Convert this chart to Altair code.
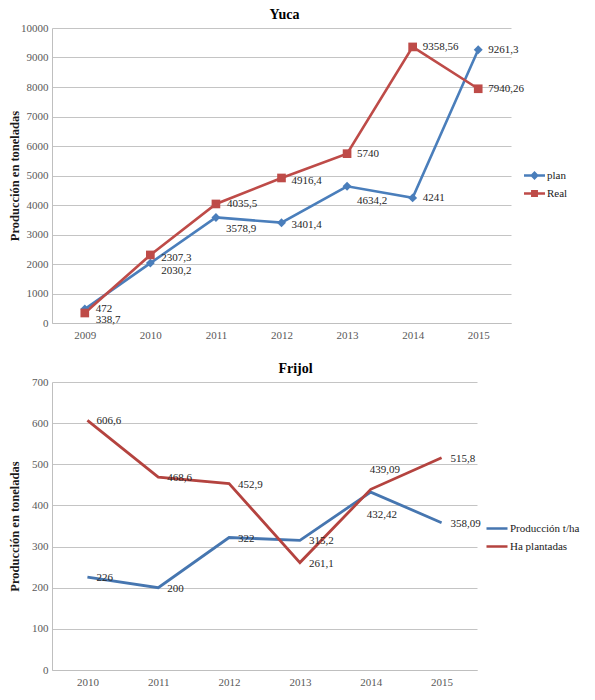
import altair as alt
import pandas as pd

# ---------------- data ----------------
yuca_years = ["2009", "2010", "2011", "2012", "2013", "2014", "2015"]
yuca_plan = [472, 2030.2, 3578.9, 3401.4, 4634.2, 4241, 9261.3]
yuca_real = [338.7, 2307.3, 4035.5, 4916.4, 5740, 9358.56, 7940.26]
yuca_series = ["plan", "Real"]
yuca_ticks = [0, 1000, 2000, 3000, 4000, 5000, 6000, 7000, 8000, 9000, 10000]

frijol_years = ["2010", "2011", "2012", "2013", "2014", "2015"]
frijol_prod = [226, 200, 322, 315.2, 432.42, 358.09]
frijol_ha = [606.6, 468.6, 452.9, 261.1, 439.09, 515.8]
frijol_series = ["Producción t/ha", "Ha plantadas"]
frijol_ticks = [0, 100, 200, 300, 400, 500, 600, 700]

# ---------------- styles ----------------
yuca_colors = ["#4A7EBB", "#BE4B48"]
frijol_colors = ["#4676B0", "#B4433F"]
SERIF = "Liberation Serif"
# legend symbols: short line with marker (diamond / square), in a -1..1 box
yuca_legend_shapes = [
    "M-1,-0.11L1,-0.11L1,0.11L-1,0.11Z M0,-0.42L0.42,0L0,0.42L-0.42,0Z",
    "M-1,-0.11L1,-0.11L1,0.11L-1,0.11Z M-0.33,-0.33L0.33,-0.33L0.33,0.33L-0.33,0.33Z",
]

# label offsets (dx, dy) per (series, year); default used otherwise
yuca_offsets = {
    ("plan", "2009"): (11, 0), ("Real", "2009"): (11, 7),
    ("plan", "2010"): (11, 8), ("Real", "2010"): (11, 3),
    ("plan", "2011"): (10, 12), ("Real", "2011"): (11, 0),
    ("plan", "2012"): (10, 2), ("Real", "2012"): (10, 3),
    ("plan", "2013"): (10, 15),
}
yuca_default = (10, 0)
frijol_offsets = {
    ("Producción t/ha", "2014"): (-4, 23),
    ("Ha plantadas", "2014"): (-1, -19),
}
frijol_default = (9, 1)


def fmt(v):
    return str(v).replace(".", ",")


def build(years, series, values, offsets, default):
    rows = []
    for s, vals in zip(series, values):
        for y, v in zip(years, vals):
            dx, dy = offsets.get((s, y), default)
            rows.append({"year": y, "serie": s, "valor": v, "label": fmt(v),
                         "dx": dx, "dy": dy})
    return pd.DataFrame(rows)


df_yuca = build(yuca_years, yuca_series, [yuca_plan, yuca_real], yuca_offsets, yuca_default)
df_frijol = build(frijol_years, frijol_series, [frijol_prod, frijol_ha], frijol_offsets, frijol_default)


def y_axis(ticks):
    return alt.Axis(values=ticks, format="d", title="Producción en toneladas", grid=True,
                    ticks=False, labelPadding=4, titlePadding=2,
                    minExtent=29, maxExtent=29, domain=True, domainColor="#BFBFBF")


def x_axis():
    return alt.Axis(title=None, labelAngle=0, grid=False, ticks=False, labelPadding=6,
                    domain=True, domainColor="#BFBFBF")


def label_layers(base, df):
    layers = []
    for (dx, dy) in sorted(set(zip(df["dx"], df["dy"]))):
        layers.append(
            base.transform_filter(f"datum.dx == {dx} && datum.dy == {dy}")
            .mark_text(align="left", baseline="middle", dx=int(dx), dy=int(dy),
                       font=SERIF, fontSize=11, color="#262626")
            .encode(text="label:N")
        )
    return layers


def legend(x, y, **kw):
    return alt.Legend(
        title=None, orient="none", legendX=x, legendY=y, padding=0,
        symbolSize=441, clipHeight=17, rowPadding=1,
        labelFont=SERIF, labelFontSize=11, labelColor="#1a1a1a", **kw)


# ---------------- Yuca ----------------
yuca_legend = legend(472, 139, labelOffset=2, symbolStrokeWidth=0, symbolOpacity=1)
yuca_color = alt.Color("serie:N", scale=alt.Scale(domain=yuca_series, range=yuca_colors),
                       legend=yuca_legend)
yuca_shape = alt.Shape("serie:N", scale=alt.Scale(domain=yuca_series, range=yuca_legend_shapes),
                       legend=yuca_legend)

yb = alt.Chart(df_yuca).encode(
    x=alt.X("year:O", sort=yuca_years, scale=alt.Scale(type="point", padding=0.5), axis=x_axis()),
    y=alt.Y("valor:Q", scale=alt.Scale(domain=[0, 10000], nice=False), axis=y_axis(yuca_ticks)),
)
y_line = yb.mark_line(strokeWidth=2.6).encode(color=yuca_color)
y_legend_layer = yb.transform_filter("false").mark_point(filled=True, opacity=1).encode(
    color=yuca_color, shape=yuca_shape)
y_plan_pts = yb.transform_filter("datum.serie === 'plan'").mark_point(
    shape="diamond", filled=True, size=80, opacity=1, color=yuca_colors[0])
y_real_pts = yb.transform_filter("datum.serie === 'Real'").mark_point(
    shape="square", filled=True, size=75, opacity=1, color=yuca_colors[1])

yuca = alt.layer(y_line, y_legend_layer, y_plan_pts, y_real_pts,
                 *label_layers(yb, df_yuca)).properties(
    width=459, height=295,
    title=alt.TitleParams("Yuca", font=SERIF, fontSize=14, fontWeight="bold",
                          color="#000000", anchor="middle", offset=0, dx=3),
)

# ---------------- Frijol ----------------
frijol_legend = legend(433, 138, labelOffset=1, symbolType="stroke", symbolStrokeWidth=2.6)
frijol_color = alt.Color("serie:N", scale=alt.Scale(domain=frijol_series, range=frijol_colors),
                         legend=frijol_legend)

fb = alt.Chart(df_frijol).encode(
    x=alt.X("year:O", sort=frijol_years, scale=alt.Scale(type="point", padding=0.5), axis=x_axis()),
    y=alt.Y("valor:Q", scale=alt.Scale(domain=[0, 700], nice=False), axis=y_axis(frijol_ticks)),
)
f_line = fb.mark_line(strokeWidth=2.8).encode(color=frijol_color)

frijol = alt.layer(f_line, *label_layers(fb, df_frijol)).properties(
    width=425, height=288,
    title=alt.TitleParams("Frijol", font=SERIF, fontSize=14, fontWeight="bold",
                          color="#000000", anchor="middle", offset=0, dx=31),
)

chart = alt.vconcat(yuca, frijol, spacing=22).resolve_scale(
    color="independent", shape="independent").configure(
    padding={"left": 0, "top": 0, "right": 0, "bottom": 0},
).configure_view(stroke=None).configure_axis(
    labelFont=SERIF, labelFontSize=11, labelColor="#595959",
    titleFont=SERIF, titleFontSize=12.5, titleFontWeight="bold", titleColor="#1a1a1a",
    gridColor="#C4C4C4", gridWidth=1,
).configure_legend(labelFont=SERIF, labelFontSize=11, labelColor="#1a1a1a")

chart.save("out.html", embed_options={"renderer": "svg", "actions": False})
